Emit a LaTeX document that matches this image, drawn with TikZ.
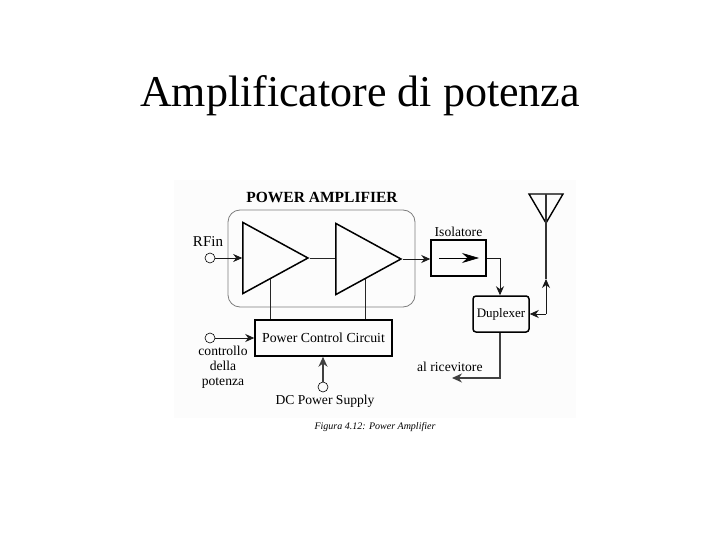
\documentclass[tikz,border=0pt]{standalone}
\usepackage{fontspec}
\setmainfont{Liberation Serif}
\usetikzlibrary{positioning,shapes.geometric,arrows.meta}
\definecolor{PAgray}{RGB}{125,125,125}
\definecolor{scanwhite}{RGB}{252,252,252}

\begin{document}
\begin{tikzpicture}[x=1pt,y=-1pt,
            box/.style={draw, rectangle, line width=1.5pt, inner sep=0pt, font=\fontsize{13.8}{16}\selectfont},
            amp/.style={draw, isosceles triangle, isosceles triangle stretches, line width=1.5pt, inner sep=0pt, minimum width=71pt, minimum height=65pt},
            port/.style={draw, circle, inner sep=0pt, minimum size=10pt, line width=0.6pt},
            txt/.style={font=\fontsize{13.6}{16}\selectfont, inner sep=0pt, align=center},
            arrow/.style={-{Stealth[length=9pt,width=8pt]}, line width=0.8pt, black!90},
            thickarrow/.style={-{Stealth[length=10pt,width=9pt]}, line width=1.2pt, black!75},
            wire/.style={line width=0.7pt, black!85}
        ]
            \useasboundingbox (0,0) rectangle (720,540);
            \fill[scanwhite] (174,180) rectangle (576,418);

            \node (title) [inner sep=0pt, font=\fontsize{44}{48}\selectfont] at (360,96) {Amplificatore di potenza};
            \node (palabel) [txt, font=\fontsize{15.5}{18}\selectfont\bfseries] at (322,197) {POWER AMPLIFIER};
            \node (pabox) [draw=PAgray, rectangle, rounded corners=12pt, line width=0.8pt, minimum width=187pt, minimum height=97pt] at (321.5,258.5) {};

            % amplifiers
            \node (amp1) [amp] at (264,258) {};
            \node (amp2) [amp] at (357,259) {};
            \coordinate (amp1low) at (270,278.5);
            \coordinate (amp2low) at (365,279);

            % ports
            \node (rfin) [port] at (210,258) {};
            \node (rflabel) [txt, font=\fontsize{15}{18}\selectfont] at (208,242) {RFin};
            \node (ctrl) [port] at (210,338) {};
            \node (ctrllabel) [txt] at (223,367) {controllo\\[-1pt]della\\[-1pt]potenza};
            \node (dc) [port] at (323,387) {};
            \node (dclabel) [txt] at (325,401) {DC Power Supply};

            % blocks
            \node (pcc) [box, minimum width=137pt, minimum height=36pt] at (323.5,338) {Power Control Circuit};
            \node (iso) [box, minimum width=55pt, minimum height=36pt] at (458.5,258) {};
            \node (isolabel) [txt, above=2pt of iso] {Isolatore};
            \coordinate (isoin) at (439,258);
            \coordinate (isoout) at (479,258);
            \node (dup) [box, rounded corners=3pt, minimum width=56pt, minimum height=36pt, font=\fontsize{13}{15}\selectfont] at (501,314) {Duplexer};

            % antenna
            \coordinate (anttop) at (546,194);
            \coordinate (antbase) at (546,314);
            \coordinate (antmid) at (546,279);
            \coordinate (rxcorner) at (500,378);
            \coordinate (rxend) at (452,378);
            \coordinate (isocorner) at (500,258);
            \node (rxlabel) [txt, anchor=west] at (417,367) {al ricevitore};
            \draw[line width=1.4pt] (529,194) -- (563,194) -- (546,223) -- cycle;

            % connections
            \draw [arrow] (rfin) -- (amp1.lower side);
            \draw [wire] (amp1.apex) -- (amp2.lower side |- amp1.apex);
            \draw [arrow] (amp2.apex) -- (iso.west |- amp2.apex);
            \draw [-{Stealth[length=17pt,width=10pt]}, line width=0.7pt] (isoin) -- (isoout);
            \draw [arrow] (iso.east) -- (isocorner) -- (dup.north -| isocorner);
            \draw [wire] (amp1low) -- (pcc.north -| amp1low);
            \draw [wire] (amp2low) -- (pcc.north -| amp2low);
            \draw [arrow] (ctrl) -- (pcc.west);
            \draw [thickarrow] (dc) -- (dc |- pcc.south);
            \draw [thickarrow] (dup.south -| isocorner) -- (rxcorner) -- (rxend);
            \draw [arrow] (antbase) -- (dup.east |- antbase);
            \draw [arrow] (antbase) -- (antmid);
            \draw [line width=1.1pt, black!80] (antmid) -- (anttop);
            \node (caption) [txt, font=\fontsize{10}{12}\selectfont\itshape] at (375,427) {Figura 4.12: Power Amplifier};
        \end{tikzpicture}
\end{document}
